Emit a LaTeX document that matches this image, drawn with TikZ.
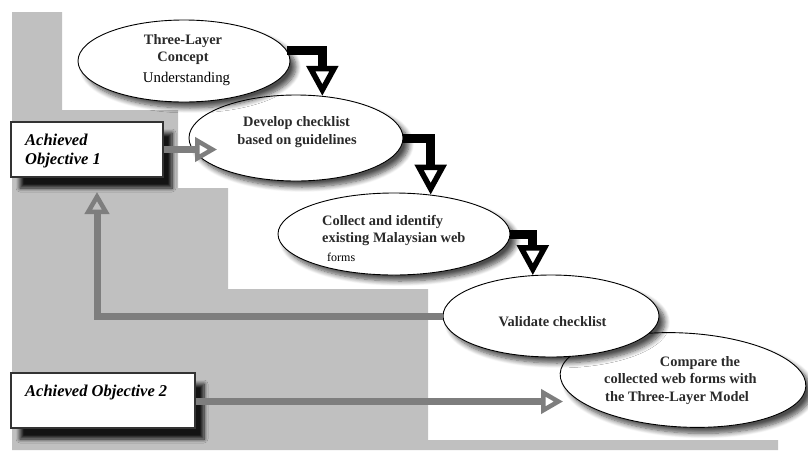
\documentclass[tikz,border=0pt]{standalone}
\usepackage{fontspec}
\setmainfont{Liberation Serif}
\usetikzlibrary{shapes.geometric,arrows.meta,shadows.blur,calc}
\definecolor{bggray}{HTML}{C0C0C0}
\definecolor{argray}{HTML}{7E7E7E}
\definecolor{txt}{HTML}{2A2A2A}
\begin{document}
\begin{tikzpicture}[x=1pt,y=-1pt,
  ell/.style={ellipse, draw=black, line width=0.9pt, fill=white, inner sep=0pt,
     blur shadow={shadow xshift=6pt, shadow yshift=-6pt, shadow blur radius=5pt, shadow blur steps=8, shadow opacity=70}},
  objbox/.style={rectangle, draw=black!80, line width=1.2pt, fill=white, inner sep=0pt,
     blur shadow={shadow xshift=9pt, shadow yshift=-11pt, shadow blur radius=4pt, shadow blur steps=8, shadow opacity=90}},
  bt/.style={font=\fontsize{14.4}{17}\selectfont\bfseries, text=txt, inner sep=0pt},
  rt/.style={font=\fontsize{14.8}{17}\selectfont, text=black, inner sep=0pt},
  ot/.style={font=\fontsize{16.5}{19}\selectfont\bfseries\itshape, text=black, inner sep=0pt, anchor=base west},
  flow/.style={line width=9pt, draw=black, -{Triangle[open, line width=5.5pt, length=30pt, width=31pt]}},
  gflow/.style={line width=7pt, draw=argray, -{Triangle[open, line width=4.5pt, length=22pt, width=24pt]}},
]
\useasboundingbox (0,0) rectangle (808,450);
% background staircase
\fill[bggray] (12,12) -- (62,12) -- (62,110) -- (178,110) -- (178,188) -- (228,188)
  -- (228,289) -- (428,289) -- (428,440) -- (778,440) -- (778,450) -- (12,450) -- cycle;

% ellipses (lower ones first)
\node[ell, minimum width=246pt, minimum height=94pt, rotate=-3] (e5) at (683,380) {};
\node[ell, minimum width=216pt, minimum height=82pt] (e4) at (551,316) {};
\node[ell, minimum width=232pt, minimum height=82pt] (e3) at (394,234) {};
\node[ell, minimum width=214pt, minimum height=86pt] (e2) at (296,138) {};
\node[ell, minimum width=212pt, minimum height=82pt] (e1) at (184,61) {};

% boxes
\node[objbox, minimum width=152pt, minimum height=55pt] (b1) at (87,149.5) {};
\node[objbox, minimum width=184pt, minimum height=55pt] (b2) at (103,400.5) {};

% texts
\node[bt, anchor=base] (t1a) at (183,44.5) {Three-Layer};
\node[bt, anchor=base] (t1b) at (183,61) {Concept};
\node[rt, anchor=base] (t1c) at (186.5,82) {Understanding};
\node[bt, anchor=base] (t2a) at (296.5,126.5) {Develop checklist};
\node[bt, anchor=base] (t2b) at (297,144) {based on guidelines};
\node[bt, anchor=base west] (t3a) at (322,225) {Collect and identify};
\node[bt, anchor=base west] (t3b) at (322,242) {existing Malaysian web};
\node[rt, font=\fontsize{12}{14}\selectfont, anchor=base west] (t3c) at (327,261) {forms};
\node[bt, anchor=base] (t4) at (552.5,326.5) {Validate checklist};
\node[bt, anchor=base] (t5a) at (700,366) {Compare the};
\node[bt, anchor=base west] (t5b) at (604,383) {collected web forms with};
\node[bt, anchor=base west] (t5c) at (605,401.5) {the Three-Layer Model};
\node[ot] (o1a) at (25,145) {Achieved};
\node[ot] (o1b) at (25,164) {Objective 1};
\node[ot] (o2) at (25,396) {Achieved Objective 2};

% gray arrows
\coordinate (g1) at (217,149.5);
\coordinate (g2) at (97,192);
\coordinate (g3) at (563,401.5);
\draw[gflow] (e4.west) -| (g2);
\draw[gflow] (b1.east) -- (g1);
\draw[gflow] (b2.east |- g3) -- (g3);

% black flow arrows
\draw[flow] (e1.6) -| (e2.58);
\draw[flow] (e2.east) -| (e3.47);
\draw[flow] (e3.east) -| (e4.114);
\end{tikzpicture}
\end{document}
